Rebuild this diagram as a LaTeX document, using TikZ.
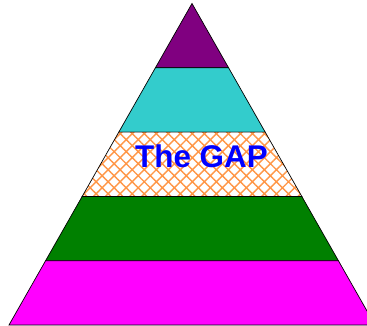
\documentclass[tikz,border=0pt]{standalone}
\usepackage{fontspec}
\setsansfont{Liberation Sans}
\usetikzlibrary{patterns.meta}
\definecolor{tipcol}{RGB}{128,0,128}
\definecolor{tealcol}{RGB}{51,204,204}
\definecolor{greencol}{RGB}{0,128,0}
\definecolor{basecol}{RGB}{255,0,255}
\definecolor{hatchcol}{RGB}{255,150,70}
\begin{document}
\begin{tikzpicture}[x=1bp, y=-1bp,
    band/.style={draw=black, line width=0.7bp, line join=miter},
    gaplabel/.style={font=\sffamily\bfseries\fontsize{31.5}{34}\selectfont, text=blue}]
    \useasboundingbox (0,0) rectangle (367,326);
    \clip (0,0) rectangle (367,326);

    % corners of the bands
    \coordinate (top) at (192,3.5);
    \coordinate (l1) at (155.4,67.8);  \coordinate (r1) at (228.6,67.8);
    \coordinate (l2) at (118.8,132.1); \coordinate (r2) at (265.2,132.1);
    \coordinate (l3) at (82.2,196.4);  \coordinate (r3) at (301.8,196.4);
    \coordinate (l4) at (45.6,260.7);  \coordinate (r4) at (338.4,260.7);
    \coordinate (l5) at (9.0,325.0);   \coordinate (r5) at (375.0,325.0);

    % bands
    \draw[band, fill=tipcol] (top) -- (r1) -- (l1) -- cycle;
    \draw[band, fill=tealcol] (l1) -- (r1) -- (r2) -- (l2) -- cycle;
    \fill[white] (l2) -- (r2) -- (r3) -- (l3) -- cycle;
    \draw[band, pattern={Hatch[angle=45, distance=8.5bp, line width=1.4bp]}, pattern color=hatchcol]
        (l2) -- (r2) -- (r3) -- (l3) -- cycle;
    \draw[band, fill=greencol] (l3) -- (r3) -- (r4) -- (l4) -- cycle;
    \draw[band, fill=basecol] (l4) -- (r4) -- (r5) -- (l5) -- cycle;

    % label
    \node[gaplabel, anchor=base] (gap) at (201.5,167.5) {The GAP};
\end{tikzpicture}
\end{document}
